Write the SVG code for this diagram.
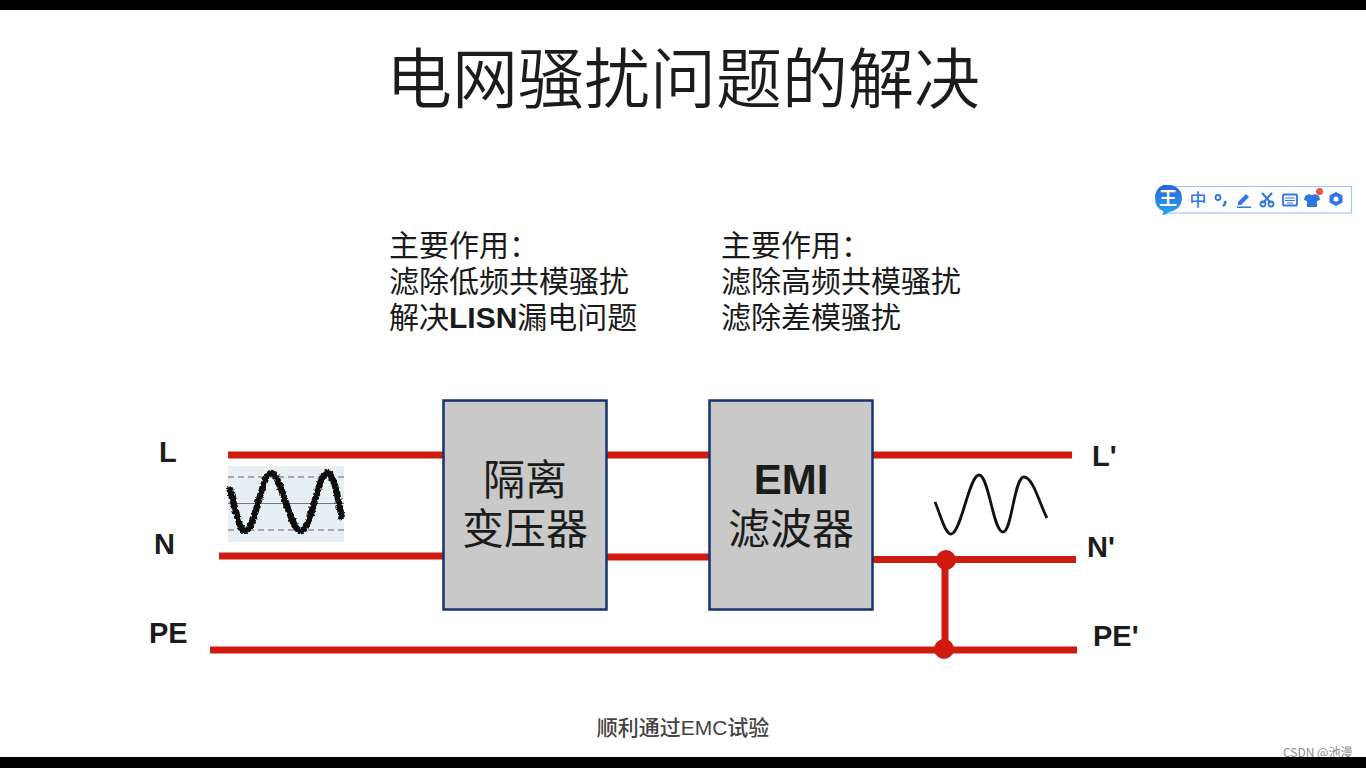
<svg xmlns="http://www.w3.org/2000/svg" width="1366" height="768" viewBox="0 0 1366 768">
<style>
.cjk{font-family:"Noto Sans CJK SC","Liberation Sans",sans-serif}
.note{font-size:30px;fill:#1a1a1a;font-weight:400}
.lab{font-family:"Liberation Sans",Arial,sans-serif;font-weight:700;font-size:29px;fill:#1c1c1c}
.box{fill:#c9c9c9;stroke:#17336e;stroke-width:2.5}
.wire{stroke:#cf1a10;stroke-width:7;fill:none}
.boxt{font-size:42px;fill:#1c1c1c;text-anchor:middle}
.tb{fill:#2f76e0}
</style>
<defs>
<filter id="noise" x="-10%" y="-10%" width="120%" height="120%">
<feTurbulence type="fractalNoise" baseFrequency="0.35" numOctaves="2" seed="4"/>
<feDisplacementMap in="SourceGraphic" scale="4" xChannelSelector="R" yChannelSelector="G"/>
</filter>
<linearGradient id="logo" x1="0" y1="0" x2="0" y2="1"><stop offset="0" stop-color="#2e62dc"/><stop offset="1" stop-color="#28a4f2"/></linearGradient>
</defs>
<rect width="1366" height="768" fill="#fff"/>
<text id="title" class="cjk" x="683" y="103" font-size="66" font-weight="350" fill="#1c1c1c" text-anchor="middle">电网骚扰问题的解决</text>
<g id="note-left" class="cjk note">
<text x="389" y="256">主要作用：</text>
<text x="389" y="292">滤除低频共模骚扰</text>
<text x="389" y="328">解决<tspan font-family="Liberation Sans" font-weight="700" font-size="30">LISN</tspan>漏电问题</text>
</g>
<g id="note-right" class="cjk note">
<text x="721" y="256">主要作用：</text>
<text x="721" y="292">滤除高频共模骚扰</text>
<text x="721" y="328">滤除差模骚扰</text>
</g>
<g id="connectors">
<path class="wire" d="M228 455H443M607 455H709M873 455H1072M219 556H443M607 557H709M873 559.500H1076M210 650H1077"/>
<path class="wire" stroke-width="6" d="M945 560V650"/>
<circle cx="946" cy="560" r="10" fill="#cf1a10"/>
<circle cx="944" cy="649" r="10" fill="#cf1a10"/>
</g>
<g id="node-transformer">
<rect class="box" x="443.500" y="400.500" width="163" height="209"/>
<text class="cjk boxt" x="525" y="495">隔离</text>
<text class="cjk boxt" x="525" y="544">变压器</text>
</g>
<g id="node-emi">
<rect class="box" x="709.500" y="400.500" width="163" height="209"/>
<text class="boxt" x="791" y="494" font-family="Liberation Sans" font-weight="700" font-size="41">EMI</text>
<text class="cjk boxt" x="791" y="544">滤波器</text>
</g>
<g id="labels">
<text class="lab" x="159" y="462">L</text>
<text class="lab" x="154" y="554">N</text>
<text class="lab" x="149" y="643">PE</text>
<text class="lab" x="1092" y="466">L'</text>
<text class="lab" x="1087" y="557">N'</text>
<text class="lab" x="1093" y="646" font-size="30">PE'</text>
</g>
<g id="wave-noisy">
<rect x="228" y="466" width="116" height="76" fill="#e6f0f4"/>
<path d="M228 477H344M228 530H344" stroke="#8c9294" stroke-width="1.500" stroke-dasharray="6 4" fill="none"/>
<path d="M228 503.500H344" stroke="#777" stroke-width="1.200"/>
<path filter="url(#noise)" d="M229 487C235 505 239 531 245 531C255 531 262 473 271 473C281 473 290 531 301 531C311 531 318 473 327 473C335 473 339 505 342 519" fill="none" stroke="#0c0c0c" stroke-width="6.500"/>
</g>
<path id="wave-clean" d="M935 502C941 516 945 534 951 534C961 534 969 475 979 475C989 475 993 532 1003 532C1012 532 1014 477 1024 477C1033 477 1040 505 1047 518" fill="none" stroke="#111" stroke-width="2.800"/>
<text id="caption" class="cjk" x="683" y="735" font-size="21" font-weight="500" fill="#444" text-anchor="middle">顺利通过<tspan font-family="Liberation Sans">EMC</tspan>试验</text>
<text id="watermark" class="cjk" x="1283" y="757" font-size="12" fill="#8a8a8a">CSDN @池漫</text>
<rect width="1366" height="10" fill="#000"/>
<rect y="757" width="1366" height="11" fill="#000"/>
<g id="toolbar">
<rect x="1168" y="186.500" width="183.500" height="26.500" fill="#fff" stroke="#a9c5f5" stroke-width="1.200"/>
<path d="M1163 185h6a13 13 0 0 1 13 13c0 8-6 13-13 14q-2 3-7 3q2-2 1-4q-8-3-8-13a13 13 0 0 1 8-13z" fill="url(#logo)"/>
<text x="1168" y="205" class="cjk" font-size="18" font-weight="700" fill="#fff" text-anchor="middle">王</text>
<text x="1198" y="206" class="cjk" font-size="17" font-weight="500" fill="#2f76e0" text-anchor="middle">中</text>
<circle cx="1218" cy="197.500" r="2.500" fill="none" stroke="#2f76e0" stroke-width="1.800"/>
<path d="M1225 201q1 3-2 5" fill="none" stroke="#2f76e0" stroke-width="2.500"/>
<path class="tb" d="M1238 202l8-8 3 3-8 8h-3zM1237 206.500h14v1.500h-14z"/>
<path d="M1262 193l9 10M1272 193l-9 10" stroke="#2f76e0" stroke-width="2"/>
<circle cx="1263" cy="204" r="2.500" fill="none" stroke="#2f76e0" stroke-width="1.800"/>
<circle cx="1271" cy="204" r="2.500" fill="none" stroke="#2f76e0" stroke-width="1.800"/>
<rect x="1283" y="194.500" width="14" height="11" rx="1" fill="none" stroke="#2f76e0" stroke-width="1.800"/>
<path d="M1285 198h10M1285 200.500h10M1287 203h6" stroke="#2f76e0" stroke-width="1.200"/>
<path class="tb" d="M1309 194l-4 2-1 4 3 1v6h10v-6l3-1-1-4-4-2q-3 2-6 0z"/>
<circle cx="1319.500" cy="191.500" r="3.500" fill="#f0503c"/>
<path class="tb" d="M1336 192l6.500 3.500v7l-6.500 3.500-6.500-3.500v-7z"/>
<circle cx="1336" cy="199" r="2.600" fill="#fff"/>
</g>
</svg>
